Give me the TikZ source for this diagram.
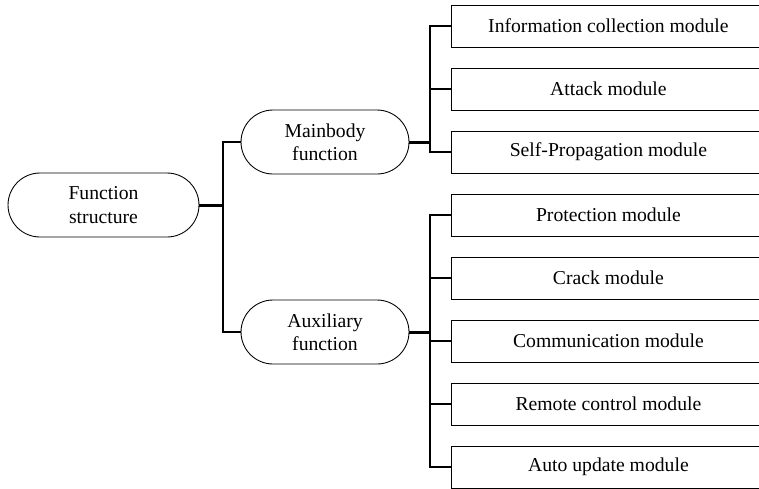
\documentclass[tikz,border=0pt]{standalone}
\usepackage{fontspec}
\setmainfont{Liberation Serif}[Ligatures=TeX]
\usetikzlibrary{shapes.misc}

\begin{document}
\begin{tikzpicture}[x=0.02cm,y=-0.02cm]
				\tikzset{every node/.style={font=\fontsize{11.2}{13.2}\selectfont,align=center,inner sep=0pt}}
				\tikzset{pill/.style={draw,line width=0.5pt,rounded rectangle,minimum height=1.28cm}}
				\tikzset{modbox/.style={draw,line width=0.5pt,anchor=west,minimum width=6.28cm,minimum height=0.84cm}}
				\tikzset{link/.style={line width=1pt}}
				\tikzset{joint/.style={line width=1.7pt}}
				\clip (0,0) rectangle (759,488);
				\node[pill,minimum width=3.82cm] (fs) at (103.5,205) {Function\\structure};
				\node[pill,minimum width=3.36cm] (mb) at (325,142) {Mainbody\\function};
				\node[pill,minimum width=3.36cm] (ax) at (325,332) {Auxiliary\\function};
				\foreach \i/\t in {1/Information collection module,2/Attack module,3/Self-Propagation module,4/Protection module,5/Crack module,6/Communication module,7/Remote control module,8/Auto update module}
					\node[modbox] (m\i) at (451,{26+63*(\i-1)}) {\t};
				\coordinate (ja) at (223,205);
				\coordinate (jb) at (430,142);
				\coordinate (jc) at (430,332);
				\draw[joint] (fs.east) -- (ja);
				\draw[link] (ja) |- (mb.west);
				\draw[link] (ja) |- (ax.west);
				\draw[joint] (mb.east) -- (jb);
				\foreach \i in {1,2,3} \draw[link] (jb) |- (m\i.west);
				\draw[joint] (ax.east) -- (jc);
				\foreach \i in {4,...,8} \draw[link] (jc) |- (m\i.west);
			\end{tikzpicture}
\end{document}
